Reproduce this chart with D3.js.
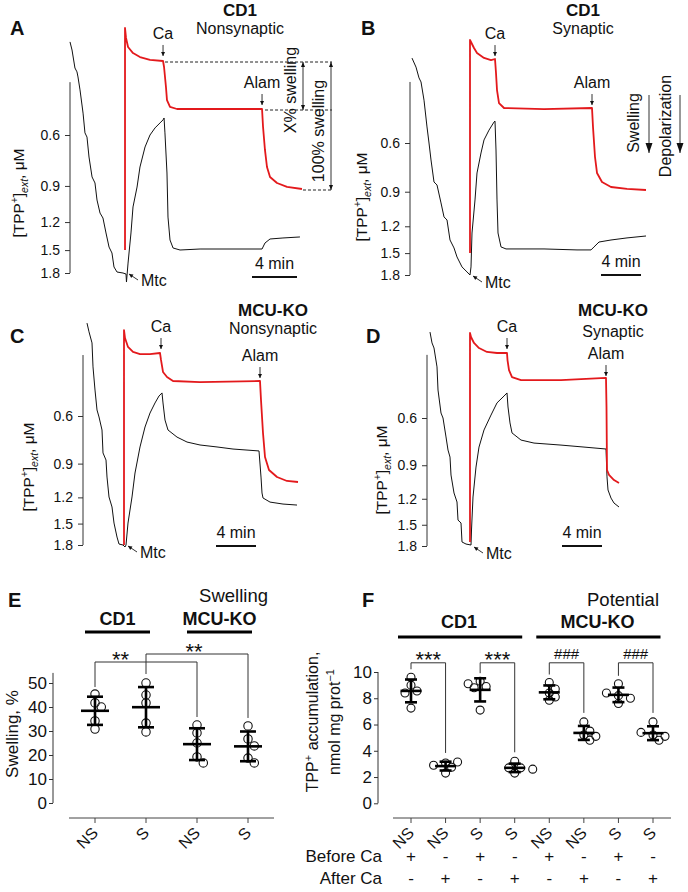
<!DOCTYPE html>
<html lang="en">
<head>
<meta charset="UTF-8">
<title>TPP+ and swelling, CD1 vs MCU-KO</title>
<script src="https://d3js.org/d3.v7.min.js"></script>
<style>
  body { margin: 0; background: #fff; }
  svg { display: block; font-family: "Liberation Sans", Arial, Helvetica, sans-serif; }
  .tpp { fill: none; stroke: #111; stroke-width: 1; }
  .swell { fill: none; stroke: #e3191c; stroke-width: 1.8; stroke-linejoin: round; }
  .thin { stroke: #333; stroke-width: 1; fill: none; }
  .dash { stroke: #222; stroke-width: 1; stroke-dasharray: 3,2; }
</style>
</head>
<body>
<svg id="fig" width="688" height="892"></svg>
<script>
// ---------- data ----------
const tppTicks = [0.6, 0.9, 1.2, 1.5, 1.8];
const panelLetters = ["A", "B", "C", "D"];
const strainNames = ["CD1", "CD1", "MCU-KO", "MCU-KO"];
const fractionNames = ["Nonsynaptic", "Synaptic", "Nonsynaptic", "Synaptic"];

// [time, min ; TPP+ ext, uM]
const cd1NsTpp = [[0,0.286],[0.18,0.305],[0.44,0.352],[0.62,0.363],[0.71,0.378],[0.89,0.419],[1.16,0.504],[1.33,0.590],[1.51,0.610],[1.69,0.715],[1.96,0.838],[2.22,0.879],[2.4,1.007],[2.67,1.117],[2.93,1.162],[3.2,1.309],[3.47,1.464],[3.73,1.535],[3.91,1.716],[4.18,1.786],[4.71,1.80],[4.98,1.815],[5.02,1.934],[5.16,1.663],[5.42,1.309],[5.6,1.064],[5.96,0.908],[6.22,0.774],[6.67,0.660],[7.11,0.6],[7.56,0.567],[8.0,0.545],[8.27,0.532],[8.36,0.524],[8.44,0.590],[8.62,0.812],[8.71,1.153],[8.89,1.384],[9.16,1.475],[9.78,1.499],[11.56,1.487],[14.49,1.487],[17.07,1.487],[17.33,1.418],[17.78,1.373],[18.93,1.362],[20.44,1.351]];
const cd1STpp = [[0.2,0.296],[0.6,0.319],[0.9,0.349],[1.1,0.361],[1.4,0.420],[1.7,0.525],[1.9,0.6],[2.1,0.691],[2.4,0.830],[2.7,0.851],[3.1,0.988],[3.4,1.110],[3.7,1.139],[4.0,1.345],[4.4,1.437],[4.7,1.549],[5.2,1.683],[5.7,1.755],[6.0,1.80],[6.1,1.683],[6.2,1.269],[6.5,0.964],[6.7,0.770],[7.1,0.652],[7.4,0.585],[7.9,0.539],[8.4,0.504],[8.5,0.500],[8.6,0.636],[8.7,0.964],[8.8,1.269],[9.1,1.425],[9.6,1.449],[13.4,1.449],[16.7,1.461],[18.1,1.461],[18.4,1.425],[18.9,1.368],[20.1,1.345],[21.7,1.322],[23.6,1.301]];
const koNsTpp = [[0.4,0.272],[0.6,0.293],[0.9,0.322],[1.0,0.395],[1.2,0.481],[1.4,0.570],[1.6,0.605],[1.9,0.676],[2.0,0.822],[2.3,0.873],[2.4,1.009],[2.6,1.196],[2.9,1.302],[3.1,1.493],[3.4,1.682],[3.6,1.785],[4.0,1.80],[4.2,1.831],[4.3,1.80],[4.5,1.493],[4.9,1.196],[5.2,0.975],[5.7,0.781],[6.2,0.659],[6.7,0.585],[7.2,0.537],[7.6,0.506],[7.9,0.493],[8.0,0.537],[8.2,0.621],[8.5,0.676],[9.4,0.718],[10.4,0.749],[11.7,0.768],[13.4,0.781],[15.0,0.795],[17.6,0.808],[17.8,1.009],[17.9,1.156],[18.0,1.206],[18.7,1.249],[20.0,1.270],[21.4,1.281]];
const koSTpp = [[0.3,0.287],[0.5,0.315],[0.7,0.329],[1.0,0.387],[1.1,0.472],[1.4,0.575],[1.6,0.6],[1.9,0.706],[2.1,0.790],[2.3,0.839],[2.4,0.979],[2.7,1.142],[3.0,1.234],[3.1,1.441],[3.4,1.477],[3.5,1.739],[3.9,1.770],[4.4,1.785],[4.45,1.569],[4.6,1.182],[4.9,0.914],[5.2,0.770],[5.7,0.665],[6.4,0.585],[7.0,0.527],[7.7,0.497],[8.0,0.484],[8.1,0.546],[8.3,0.626],[8.5,0.682],[9.4,0.725],[10.7,0.744],[13.4,0.757],[15.7,0.770],[17.9,0.783],[18.0,0.995],[18.1,1.113],[18.4,1.193],[18.7,1.245],[19.2,1.288]];

// [time, min ; swelling, % of alamethicin response]
const cd1NsSwell = [[4.89,147.7],[4.89,-25.8],[4.98,-18],[5.16,-10.9],[5.6,-6.2],[6.22,-3.1],[7.11,-0.8],[8.27,0],[8.36,4.7],[8.53,20.3],[8.62,30.5],[8.89,35.9],[9.51,37.5],[11.56,37.5],[17.07,37.5],[17.16,51.6],[17.33,69.5],[17.51,82.8],[17.78,90.6],[18.4,95.3],[19.29,98.4],[20.62,100]];
const cd1SSwell = [[6.0,148],[6.0,-14.5],[6.1,-13],[6.4,-8.4],[6.7,-4.6],[7.4,-0.8],[8.1,0.8],[8.5,0],[8.6,10.7],[8.7,23.7],[8.9,33.6],[9.4,37.4],[13.4,38.2],[18.2,37.4],[18.3,51.9],[18.5,74.8],[18.7,87],[19.2,93.9],[20.1,97.7],[21.7,99.2],[23.6,100]];
const koNsSwell = [[4.1,148.8],[4.1,-17.8],[4.2,-11.6],[4.5,-4.7],[5.0,-0.8],[5.7,0.8],[6.7,0.8],[7.7,0],[7.8,5.4],[8.0,14.7],[8.4,18.6],[9.0,21.7],[11.7,22.5],[17.7,21.7],[17.8,36.4],[18.0,62],[18.2,80.6],[18.6,90.7],[19.4,96.1],[20.4,99.2],[21.5,100]];
const koSSwell = [[4.3,145.4],[4.3,-15.4],[4.4,-12.3],[4.7,-7.7],[5.2,-3.8],[6.0,-0.8],[7.0,0],[8.0,0],[8.05,5.4],[8.2,13.1],[8.5,18.5],[9.4,20.8],[13.4,20.8],[17.9,19.2],[17.95,41.5],[18.0,90],[18.2,93.8],[18.7,97.7],[19.2,100]];

const mtcTimes = [4.98, 6.0, 4.2, 4.4];
const caTimes = [8.27, 8.5, 7.8, 8.0];
const alamTimes = [17.07, 18.2, 17.7, 17.9];

// panel E: swelling, %
const swellLabels = ["NS", "S", "NS", "S"];
const swellTicks = [0, 10, 20, 30, 40, 50];
const swellCd1Ns = [41.7, 40, 45.4, 34.2, 30.8];
const swellCd1S = [45, 50, 41.7, 33.3, 29.6];
const swellKoNs = [29.2, 32.5, 25, 19.2, 16.7];
const swellKoS = [26.7, 32.1, 23.8, 18.7, 16.7];

// panel F: TPP+ accumulation, nmol/mg protein
const accLabels = ["NS", "NS", "S", "S", "NS", "NS", "S", "S"];
const beforeCa = ["+", "-", "+", "-", "+", "-", "+", "-"];
const afterCa = ["-", "+", "-", "+", "-", "+", "-", "+"];
const accTicks = [0, 2, 4, 6, 8, 10];
const accCd1NsBefore = [9.6, 9.0, 8.55, 8.4, 7.25];
const accCd1NsAfter = [3.07, 3.15, 2.9, 2.75, 2.3];
const accCd1SBefore = [9.3, 8.9, 9.1, 8.8, 7.1];
const accCd1SAfter = [3.2, 2.7, 2.7, 2.3, 2.6];
const accKoNsBefore = [9.2, 8.4, 8.7, 8.1, 7.85];
const accKoNsAfter = [6.2, 5.2, 5.1, 4.8, 5.5];
const accKoSBefore = [9.1, 8.2, 8.0, 7.6, 8.4];
const accKoSAfter = [6.2, 5.2, 5.1, 4.8, 5.4];

// ---------- layout ----------
const tppTraces = [cd1NsTpp, cd1STpp, koNsTpp, koSTpp];
const swellTraces = [cd1NsSwell, cd1SSwell, koNsSwell, koSSwell];
const traceLayout = [
  { axisX: 70,  ppm: 11.25, y06: 135, y18: 273, axisTop: 0.394, sw0: 61,  sw100: 189, letter: [10, 35],  titleX: 240, titleY: [16, 34],  bar: [252, 277], ytitle: [18, 193] },
  { axisX: 410, ppm: 10,    y06: 143, y18: 275, axisTop: 0.361, sw0: 59,  sw100: 190, letter: [361, 35], titleX: 583, titleY: [16, 34],  bar: [601, 275], ytitle: [361, 197] },
  { axisX: 83,  ppm: 10,    y06: 416, y18: 545, axisTop: 0.357, sw0: 353, sw100: 482, letter: [10, 343], titleX: 273, titleY: [316, 334], bar: [216, 546], ytitle: [28, 467] },
  { axisX: 427, ppm: 10,    y06: 418, y18: 546, axisTop: 0.349, sw0: 353, sw100: 483, letter: [366, 343], titleX: 613, titleY: [316, 337], bar: [562, 546], ytitle: [381, 470] }
];

const svg = d3.select("#fig");

function txt(g, x, y, s, size, opts = {}) {
  return g.append("text").attr("x", x).attr("y", y).text(s)
    .attr("font-size", size)
    .attr("font-weight", opts.bold ? "bold" : null)
    .attr("text-anchor", opts.anchor || "start")
    .attr("fill", "#111");
}

function arrowHead(g, x1, y1, x2, y2, len, w) {
  const a = Math.atan2(y2 - y1, x2 - x1);
  const bx = x2 - len * Math.cos(a), by = y2 - len * Math.sin(a);
  const nx = -Math.sin(a) * w / 2, ny = Math.cos(a) * w / 2;
  g.append("path").attr("d", `M${x2},${y2}L${bx + nx},${by + ny}L${bx - nx},${by - ny}Z`).attr("fill", "#111");
}

function arrow(g, x1, y1, x2, y2, len, w, both) {
  g.append("line").attr("x1", x1).attr("y1", y1).attr("x2", x2).attr("y2", y2).attr("class", "thin").attr("stroke", "#111");
  arrowHead(g, x1, y1, x2, y2, len, w);
  if (both) arrowHead(g, x2, y2, x1, y1, len, w);
}

function valueBefore(trace, t) {
  let v = trace[0][1];
  trace.forEach(d => { if (d[0] <= t - 0.05) v = d[1]; });
  return v;
}

function rotatedLabel(g, cx, cy, size) {
  return g.append("text").attr("transform", `translate(${cx + size * 0.36},${cy}) rotate(-90)`)
    .attr("text-anchor", "middle").attr("font-size", size).attr("fill", "#111");
}

// ---------- panels A-D ----------
traceLayout.forEach((p, i) => {
  const g = svg.append("g");
  const x = d3.scaleLinear().domain([0, 10]).range([p.axisX, p.axisX + 10 * p.ppm]);
  const y = d3.scaleLog().domain([0.6, 1.8]).range([p.y06, p.y18]);
  const ySw = d3.scaleLinear().domain([0, 100]).range([p.sw0, p.sw100]);

  const ax = g.append("g").attr("transform", `translate(${p.axisX},0)`)
    .call(d3.axisLeft(y).tickValues(tppTicks).tickFormat(d3.format(".1f")).tickSize(5).tickSizeOuter(0).tickPadding(5))
    .attr("font-size", 14).attr("font-family", null).attr("color", "#333");
  ax.select(".domain").remove();
  ax.selectAll("text").attr("fill", "#111");
  ax.append("line").attr("y1", y(p.axisTop)).attr("y2", y(1.8)).attr("stroke", "#333");

  const yt = rotatedLabel(g, p.ytitle[0], p.ytitle[1], 15.5);
  yt.append("tspan").text("[TPP");
  yt.append("tspan").text("+").attr("dy", -6).attr("font-size", 10);
  yt.append("tspan").text("]").attr("dy", 6);
  yt.append("tspan").text("ext").attr("dy", 4).attr("font-size", 10.5).attr("font-style", "italic");
  yt.append("tspan").text(", \u03bcM").attr("dy", -4);

  g.append("path").datum(tppTraces[i]).attr("class", "tpp")
    .attr("d", d3.line().x(d => x(d[0])).y(d => y(d[1])));
  const sw = swellTraces[i];
  g.append("path").datum(sw).attr("class", "swell")
    .attr("d", d3.line().x(d => x(d[0])).y(d => ySw(d[1])));

  // additions
  [[caTimes[i], "Ca"], [alamTimes[i], "Alam"]].forEach(([t, name]) => {
    const xe = x(t), tip = ySw(valueBefore(sw, t)) - 4;
    arrow(g, xe, tip - 11, xe, tip, 4, 4);
    txt(g, xe, tip - 17, name, 16, { anchor: "middle" });
  });
  const xm = x(mtcTimes[i]), bottom = y(1.8);
  arrow(g, xm + 12, bottom + 7, xm + 3, bottom + 1, 4, 4);
  txt(g, xm + 15, bottom + 13, "Mtc", 16);

  // scale bar
  g.append("line").attr("x1", p.bar[0]).attr("x2", p.bar[0] + 4 * p.ppm).attr("y1", p.bar[1]).attr("y2", p.bar[1])
    .attr("stroke", "#111").attr("stroke-width", 2);
  txt(g, p.bar[0] + 2 * p.ppm, p.bar[1] - 8, "4 min", 16, { anchor: "middle" });

  txt(g, p.letter[0], p.letter[1], panelLetters[i], 20, { bold: true });
  txt(g, p.titleX, p.titleY[0], strainNames[i], 17, { bold: true, anchor: "middle" });
  txt(g, p.titleX, p.titleY[1], fractionNames[i], 16, { anchor: "middle" });

  if (i === 0) {
    // swelling definition
    const right = 332;
    const plateau = valueBefore(sw, alamTimes[i]);
    const last = sw[sw.length - 1];
    const y0 = ySw(0) + 1, yx = ySw(plateau) + 1, y100 = ySw(100) + 1;
    [[x(caTimes[i]) + 2, y0], [x(alamTimes[i]) + 3, yx], [x(last[0]) + 1, y100]].forEach(([x1, yy]) => {
      g.append("line").attr("class", "dash").attr("x1", x1).attr("x2", right).attr("y1", yy).attr("y2", yy);
    });
    arrow(g, right - 29, y0, right - 29, yx, 5, 4, true);
    arrow(g, right - 1, y0, right - 1, y100, 5, 4, true);
    rotatedLabel(g, 290, (y0 + yx) / 2 + 4, 16).text("X% swelling");
    rotatedLabel(g, 318, (y0 + y100) / 2 + 5, 16).text("100% swelling");
  }
  if (i === 1) {
    rotatedLabel(g, 633, 123, 16).text("Swelling");
    arrow(g, 649, 95, 649, 153, 10, 7);
    rotatedLabel(g, 665, 126, 16).text("Depolarization");
    arrow(g, 680, 95, 680, 153, 10, 7);
  }
});

// ---------- scatter helpers ----------
function dodge(vals, ys, r) {
  const placed = [];
  return vals.map(v => {
    const cy = ys(v);
    const cands = [0, 1, -1, 2, -2, 3, -3].map(k => k * r * 1.5);
    let dx = cands.find(c => placed.every(q => Math.hypot(q[0] - c, q[1] - cy) >= r * 1.7));
    if (dx === undefined) dx = 0;
    placed.push([dx, cy]);
    return dx;
  });
}

function drawScatter(g, xs, ys, groups, o) {
  groups.forEach((vals, i) => {
    const cx = xs(i);
    const dx = dodge(vals, ys, o.r);
    g.selectAll(null).data(vals).join("circle")
      .attr("cx", (d, j) => cx + dx[j]).attr("cy", d => ys(d)).attr("r", o.r)
      .attr("fill", "none").attr("stroke", "#111").attr("stroke-width", 1.1);
    const m = d3.mean(vals), sd = d3.deviation(vals);
    const ln = (x1, y1, x2, y2) => g.append("line").attr("x1", x1).attr("y1", y1).attr("x2", x2).attr("y2", y2)
      .attr("stroke", "#000").attr("stroke-width", 2.6);
    ln(cx, ys(m + sd), cx, ys(m - sd));
    ln(cx - o.cap, ys(m + sd), cx + o.cap, ys(m + sd));
    ln(cx - o.cap, ys(m - sd), cx + o.cap, ys(m - sd));
    ln(cx - o.mean, ys(m), cx + o.mean, ys(m));
  });
}

function bracket(g, xs, ys, groups, a, b, top, startOff, endOff) {
  const y1 = ys(d3.max(groups[a])) - startOff, y2 = ys(d3.max(groups[b])) - endOff;
  g.append("path").attr("class", "thin").attr("stroke", "#444")
    .attr("d", `M${xs(a)},${y1}V${top}H${xs(b)}V${y2}`);
}

function xAxis(g, xs, labels, x1, x2, yLine) {
  g.append("line").attr("x1", x1).attr("x2", x2).attr("y1", yLine).attr("y2", yLine).attr("stroke", "#444");
  labels.forEach((s, i) => {
    g.append("line").attr("x1", xs(i)).attr("x2", xs(i)).attr("y1", yLine).attr("y2", yLine + 5).attr("stroke", "#444");
    g.append("text").attr("transform", `translate(${xs(i) + 4},${yLine + 16}) rotate(-45)`)
      .attr("text-anchor", "end").attr("font-size", 16).attr("fill", "#111").text(s);
  });
}

function yAxis(g, ys, ticks, xPos, topVal) {
  const ax = g.append("g").attr("transform", `translate(${xPos},0)`)
    .call(d3.axisLeft(ys).tickValues(ticks).tickSize(4).tickSizeOuter(0).tickPadding(2))
    .attr("font-size", 17).attr("font-family", null).attr("color", "#333");
  ax.select(".domain").remove();
  ax.selectAll("text").attr("fill", "#111");
  ax.append("line").attr("y1", ys(topVal)).attr("y2", ys(0)).attr("stroke", "#333");
}

// ---------- panel E ----------
{
  const g = svg.append("g");
  const groups = [swellCd1Ns, swellCd1S, swellKoNs, swellKoS];
  const xs = d3.scalePoint().domain(d3.range(groups.length)).range([95, 248]);
  const ys = d3.scaleLinear().domain([0, 50]).range([803, 683]);
  yAxis(g, ys, swellTicks, 53, 54.2);
  xAxis(g, xs, swellLabels, 69, 274, 818);
  drawScatter(g, xs, ys, groups, { r: 4.2, cap: 8, mean: 14 });

  const tops = [662, 654];
  bracket(g, xs, ys, groups, 0, 2, tops[0], 7, 8);
  bracket(g, xs, ys, groups, 1, 3, tops[1], 9, 8);
  txt(g, xs(0) + (xs(2) - xs(0)) * 0.25, tops[0] + 5, "**", 22, { anchor: "middle" });
  txt(g, xs(1) + (xs(3) - xs(1)) * 0.47, tops[1] + 5, "**", 22, { anchor: "middle" });

  [[0, 1, "CD1"], [2, 3, "MCU-KO"]].forEach(([a, b, name]) => {
    const x1 = xs(a) - 10, x2 = xs(b) + 4;
    g.append("line").attr("x1", x1).attr("x2", x2).attr("y1", 632).attr("y2", 632).attr("stroke", "#000").attr("stroke-width", 3);
    txt(g, (x1 + x2) / 2, 625, name, 18, { bold: true, anchor: "middle" });
  });

  txt(g, 8, 607, "E", 20, { bold: true });
  txt(g, 268, 602, "Swelling", 18.5, { anchor: "end" });
  rotatedLabel(g, 12, 734, 17).text("Swelling, %");
}

// ---------- panel F ----------
{
  const g = svg.append("g");
  const groups = [accCd1NsBefore, accCd1NsAfter, accCd1SBefore, accCd1SAfter, accKoNsBefore, accKoNsAfter, accKoSBefore, accKoSAfter];
  const xs = d3.scalePoint().domain(d3.range(groups.length)).range([411, 653]);
  const ys = d3.scaleLinear().domain([0, 10]).range([803.3, 672]);
  yAxis(g, ys, accTicks, 378, 10);
  xAxis(g, xs, accLabels, 393, 671, 818);
  drawScatter(g, xs, ys, groups, { r: 4, cap: 6, mean: 10.5 });

  const top = ys(10.7);
  [[0, 1, "***"], [2, 3, "***"], [4, 5, "###"], [6, 7, "###"]].forEach(([a, b, mark]) => {
    bracket(g, xs, ys, groups, a, b, top, 8, 9);
    const isStar = mark === "***";
    txt(g, (xs(a) + xs(b)) / 2, isStar ? top + 4.5 : top - 4, mark, isStar ? 22 : 15, { anchor: "middle" });
  });

  [[0, 3, "CD1"], [4, 7, "MCU-KO"]].forEach(([a, b, name]) => {
    const x1 = xs(a) - 13, x2 = xs(b) + 7.5;
    g.append("line").attr("x1", x1).attr("x2", x2).attr("y1", 637).attr("y2", 637).attr("stroke", "#000").attr("stroke-width", 3);
    txt(g, (x1 + x2) / 2 - 1, 628, name, 18, { bold: true, anchor: "middle" });
  });

  txt(g, 382, 862, "Before Ca", 17, { anchor: "end" });
  txt(g, 382, 884, "After Ca", 17, { anchor: "end" });
  beforeCa.forEach((s, i) => txt(g, xs(i), 862, s, 17, { anchor: "middle" }));
  afterCa.forEach((s, i) => txt(g, xs(i), 884, s, 17, { anchor: "middle" }));

  txt(g, 362, 607, "F", 20, { bold: true });
  txt(g, 659, 606, "Potential", 18.5, { anchor: "end" });
  const t1 = rotatedLabel(g, 312, 722, 16);
  t1.append("tspan").text("TPP");
  t1.append("tspan").text("+").attr("dy", -6).attr("font-size", 11);
  t1.append("tspan").text(" accumulation,").attr("dy", 6);
  const t2 = rotatedLabel(g, 334, 722, 16);
  t2.append("tspan").text("nmol mg prot");
  t2.append("tspan").text("\u22121").attr("dy", -6).attr("font-size", 11);
}
</script>
</body>
</html>
